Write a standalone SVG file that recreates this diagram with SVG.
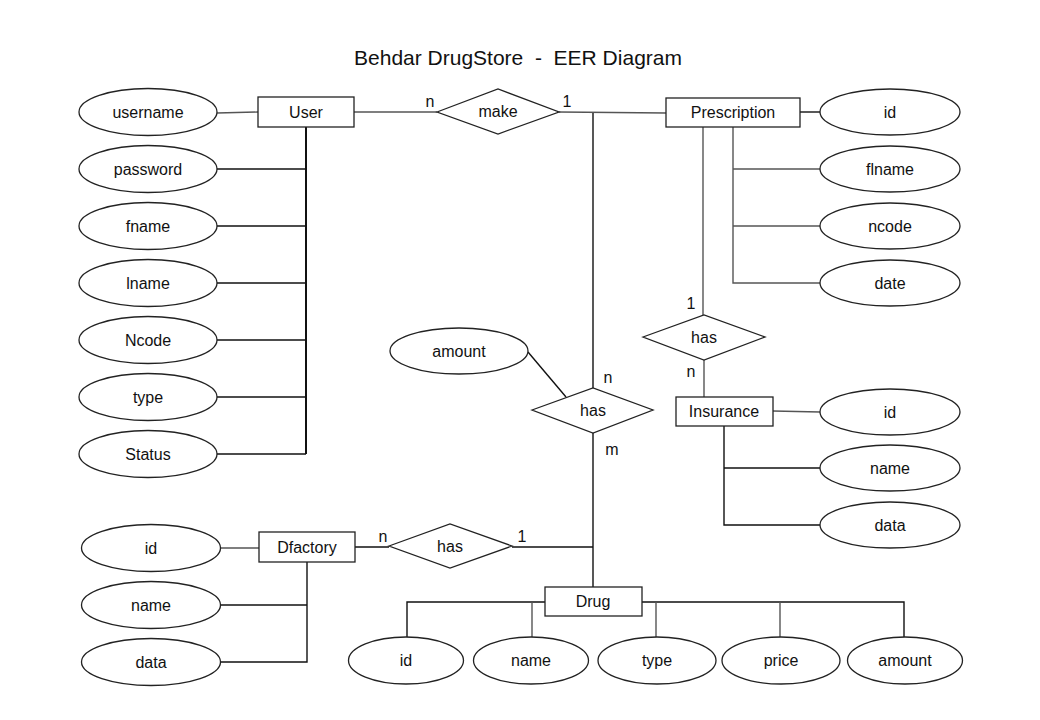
<svg xmlns="http://www.w3.org/2000/svg" width="1040" height="720" viewBox="0 0 1040 720">
<style>
text{font-family:"Liberation Sans",Arial,sans-serif;font-size:16px;fill:#111;text-anchor:middle;dominant-baseline:central}
.t{font-size:21px;white-space:pre}
ellipse,rect,polygon{fill:#fff;stroke:#222;stroke-width:1.3}
rect.bg{stroke:none}
#connectors line,#connectors polyline{stroke:#111;stroke-width:1.4;fill:none}
#connectors .g{stroke:#555}
</style>
<rect class="bg" x="0" y="0" width="1040" height="720"/>
<text class="t" x="518" y="57" xml:space="preserve">Behdar DrugStore  -  EER Diagram</text>
<g id="connectors">
<line class="g" x1="217" y1="113" x2="258" y2="112"/>
<line x1="306" y1="127" x2="306" y2="454" style="stroke-width:2"/>
<line x1="217" y1="169" x2="306" y2="169"/>
<line x1="217" y1="226" x2="306" y2="226"/>
<line x1="217" y1="283" x2="306" y2="283"/>
<line x1="217" y1="340" x2="306" y2="340"/>
<line x1="217" y1="397" x2="306" y2="397"/>
<line x1="217" y1="454" x2="306" y2="454"/>
<line class="g" x1="354" y1="112" x2="437" y2="112"/>
<line class="g" x1="559" y1="112" x2="666" y2="113"/>
<line x1="593" y1="113" x2="593" y2="388"/>
<line x1="800" y1="112" x2="820" y2="112"/>
<line class="g" x1="703" y1="127" x2="703" y2="315"/>
<polyline class="g" points="733,127 733,283 820,283"/>
<line class="g" x1="733" y1="169" x2="820" y2="169"/>
<line class="g" x1="733" y1="226" x2="820" y2="226"/>
<line class="g" x1="704" y1="360" x2="704" y2="397"/>
<line class="g" x1="773" y1="411" x2="820" y2="412"/>
<polyline points="724,426 724,525 820,525"/>
<line x1="724" y1="468" x2="820" y2="468"/>
<line x1="528" y1="352" x2="566" y2="397"/>
<line x1="593" y1="433" x2="593" y2="587"/>
<line class="g" x1="221" y1="548" x2="259" y2="548"/>
<polyline points="307,562 307,662 221,662"/>
<line x1="221" y1="605" x2="307" y2="605"/>
<line x1="355" y1="547" x2="389" y2="547"/>
<line x1="512" y1="547" x2="593" y2="547"/>
<polyline points="545,602 407,602 407,637"/>
<line class="g" x1="532" y1="602" x2="532" y2="637"/>
<polyline points="642,602 904,602 904,637"/>
<line class="g" x1="656" y1="602" x2="656" y2="637"/>
<line class="g" x1="780" y1="602" x2="780" y2="637"/>
</g>
<g id="user"><rect x="258" y="97" width="96" height="30"/><text x="306" y="112">User</text></g>
<g id="user-username"><ellipse cx="148" cy="112" rx="69" ry="23.5"/><text x="148" y="112">username</text></g>
<g id="user-password"><ellipse cx="148" cy="169" rx="69" ry="23.5"/><text x="148" y="169">password</text></g>
<g id="user-fname"><ellipse cx="148" cy="226" rx="69" ry="23.5"/><text x="148" y="226">fname</text></g>
<g id="user-lname"><ellipse cx="148" cy="283" rx="69" ry="23.5"/><text x="148" y="283">lname</text></g>
<g id="user-ncode"><ellipse cx="148" cy="340" rx="69" ry="23.5"/><text x="148" y="340">Ncode</text></g>
<g id="user-type"><ellipse cx="148" cy="397" rx="69" ry="23.5"/><text x="148" y="397">type</text></g>
<g id="user-status"><ellipse cx="148" cy="454" rx="69" ry="23.5"/><text x="148" y="454">Status</text></g>
<g id="make"><polygon points="437,112 498,89 559,112 498,134"/><text x="498" y="111">make</text><text x="430" y="101">n</text><text x="567" y="101">1</text></g>
<g id="prescription"><rect x="666" y="98" width="134" height="29"/><text x="733" y="112">Prescription</text></g>
<g id="prescription-id"><ellipse cx="890" cy="112" rx="70" ry="23"/><text x="890" y="112">id</text></g>
<g id="prescription-flname"><ellipse cx="890" cy="169" rx="70" ry="23"/><text x="890" y="169">flname</text></g>
<g id="prescription-ncode"><ellipse cx="890" cy="226" rx="70" ry="23"/><text x="890" y="226">ncode</text></g>
<g id="prescription-date"><ellipse cx="890" cy="283" rx="70" ry="23"/><text x="890" y="283">date</text></g>
<g id="has-insurance"><polygon points="643,337 704,315 765,337 704,360"/><text x="704" y="337">has</text><text x="691" y="303">1</text><text x="691" y="371">n</text></g>
<g id="insurance"><rect x="676" y="397" width="97" height="29"/><text x="724" y="411">Insurance</text></g>
<g id="insurance-id"><ellipse cx="890" cy="412" rx="70" ry="23"/><text x="890" y="412">id</text></g>
<g id="insurance-name"><ellipse cx="890" cy="468" rx="70" ry="23"/><text x="890" y="468">name</text></g>
<g id="insurance-data"><ellipse cx="890" cy="525" rx="70" ry="23"/><text x="890" y="525">data</text></g>
<g id="has-amount"><ellipse cx="459" cy="351" rx="69" ry="23"/><text x="459" y="351">amount</text></g>
<g id="has-drug"><polygon points="532,410 593,388 653,410 593,433"/><text x="593" y="410">has</text><text x="608" y="377">n</text><text x="612" y="449">m</text></g>
<g id="dfactory"><rect x="259" y="532" width="96" height="30"/><text x="307" y="547">Dfactory</text></g>
<g id="dfactory-id"><ellipse cx="151" cy="548" rx="69.5" ry="23.5"/><text x="151" y="548">id</text></g>
<g id="dfactory-name"><ellipse cx="151" cy="605" rx="69.5" ry="23.5"/><text x="151" y="605">name</text></g>
<g id="dfactory-data"><ellipse cx="151" cy="662" rx="69.5" ry="23.5"/><text x="151" y="662">data</text></g>
<g id="has-factory"><polygon points="389,546 450,524 512,546 450,568"/><text x="450" y="546">has</text><text x="383" y="536">n</text><text x="522" y="536">1</text></g>
<g id="drug"><rect x="545" y="587" width="97" height="29"/><text x="593" y="601">Drug</text></g>
<g id="drug-id"><ellipse cx="406" cy="660.5" rx="57.5" ry="23.5"/><text x="406" y="660">id</text></g>
<g id="drug-name"><ellipse cx="531" cy="660.5" rx="57.5" ry="23.5"/><text x="531" y="660">name</text></g>
<g id="drug-type"><ellipse cx="657" cy="660.5" rx="59" ry="23.5"/><text x="657" y="660">type</text></g>
<g id="drug-price"><ellipse cx="781" cy="660.5" rx="59" ry="23.5"/><text x="781" y="660">price</text></g>
<g id="drug-amount"><ellipse cx="905" cy="660.5" rx="57.5" ry="23.5"/><text x="905" y="660">amount</text></g>
</svg>
